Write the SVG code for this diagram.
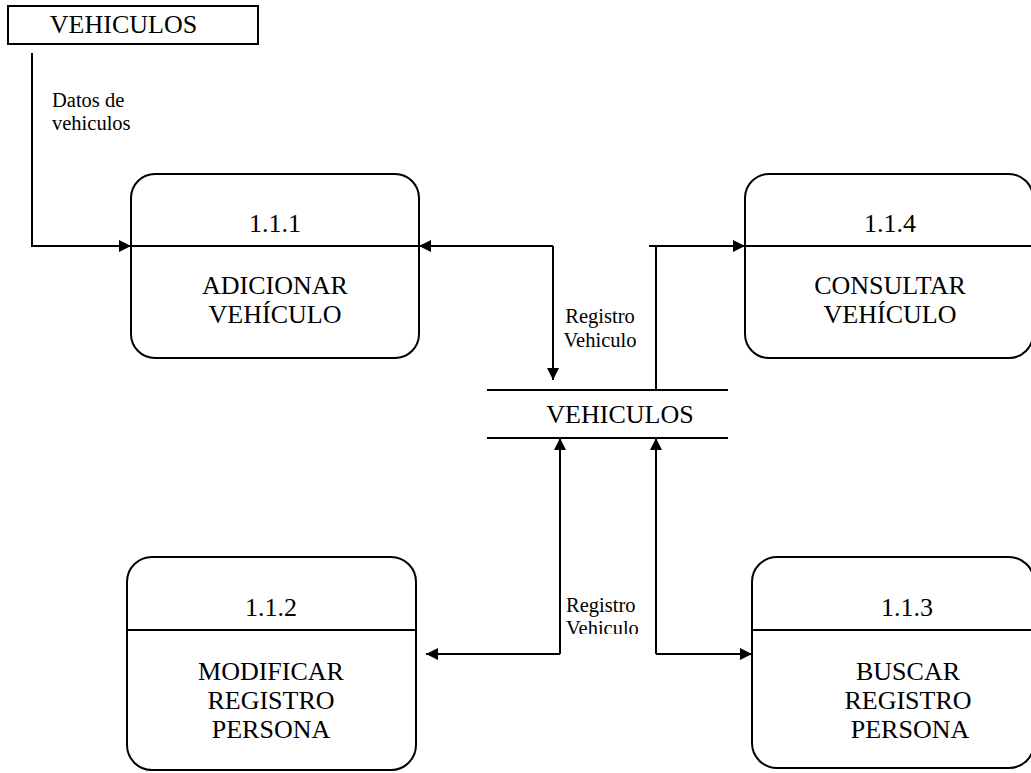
<svg xmlns="http://www.w3.org/2000/svg" width="1031" height="773" viewBox="0 0 1031 773">
<style>
  .box { fill: #fff; stroke: #000; stroke-width: 2; }
  .ln { fill: none; stroke: #000; stroke-width: 2; }
  text { font-family: "Times New Roman", "Liberation Serif", Tinos, "DejaVu Serif", serif; fill: #000; }
  .big { font-size: 26px; text-anchor: middle; }
  .lbl { font-size: 20.5px; }
</style>
<defs>
  <marker id="arr" viewBox="0 0 12 12" refX="12" refY="6" markerWidth="12" markerHeight="12" markerUnits="userSpaceOnUse" orient="auto">
    <path d="M0,0 L12,6 L0,12 Z" fill="#000"/>
  </marker>
  <clipPath id="clipLbl"><rect x="540" y="580" width="120" height="54"/></clipPath>
</defs>
<rect width="1031" height="773" fill="#fff"/>
<g id="ext-vehiculos">
  <rect class="box" x="8" y="6" width="250" height="38"/>
  <text class="big" x="123.5" y="33">VEHICULOS</text>
</g>

<g id="p111">
  <rect class="box" x="131" y="174" width="288" height="184" rx="24" ry="24"/>
  <line class="ln" x1="131" y1="246" x2="419" y2="246"/>
  <text class="big" x="275" y="232">1.1.1</text>
  <text class="big" x="275" y="294">ADICIONAR</text>
  <text class="big" x="275" y="323">VEHÍCULO</text>
</g>

<g id="p114">
  <rect class="box" x="745" y="174" width="288" height="184" rx="24" ry="24"/>
  <line class="ln" x1="745" y1="246" x2="1033" y2="246"/>
  <text class="big" x="890" y="232">1.1.4</text>
  <text class="big" x="890" y="294">CONSULTAR</text>
  <text class="big" x="890" y="323">VEHÍCULO</text>
</g>

<g id="p112">
  <rect class="box" x="127" y="557" width="289" height="213" rx="25" ry="25"/>
  <line class="ln" x1="127" y1="630" x2="416" y2="630"/>
  <text class="big" x="271" y="616">1.1.2</text>
  <text class="big" x="271" y="680">MODIFICAR</text>
  <text class="big" x="271" y="709">REGISTRO</text>
  <text class="big" x="271" y="738">PERSONA</text>
</g>

<g id="p113">
  <rect class="box" x="752" y="557" width="282" height="211" rx="25" ry="25"/>
  <line class="ln" x1="752" y1="630" x2="1034" y2="630"/>
  <text class="big" x="907" y="616">1.1.3</text>
  <text class="big" x="908" y="680">BUSCAR</text>
  <text class="big" x="908" y="709">REGISTRO</text>
  <text class="big" x="910" y="738">PERSONA</text>
</g>

<g id="store-vehiculos">
  <line class="ln" x1="487" y1="390" x2="728" y2="390"/>
  <line class="ln" x1="487" y1="438" x2="728" y2="438"/>
  <text class="big" x="620" y="423">VEHICULOS</text>
</g>

<g id="connectors">
  <polyline class="ln" points="32,53 32,246 131,246" marker-end="url(#arr)"/>
  <polyline class="ln" points="553,246 419,246" marker-end="url(#arr)"/>
  <polyline class="ln" points="553,246 553,380" marker-end="url(#arr)"/>
  <polyline class="ln" points="656,390 656,246"/>
  <polyline class="ln" points="649,246 745,246" marker-end="url(#arr)"/>
  <polyline class="ln" points="560,654 560,438" marker-end="url(#arr)"/>
  <polyline class="ln" points="560,654 426,654" marker-end="url(#arr)"/>
  <polyline class="ln" points="656,654 656,438" marker-end="url(#arr)"/>
  <polyline class="ln" points="656,654 752,654" marker-end="url(#arr)"/>
  <text class="lbl" x="52" y="107">Datos de</text>
  <text class="lbl" x="52" y="130">vehiculos</text>
  <text class="lbl" x="600" y="323" text-anchor="middle">Registro</text>
  <text class="lbl" x="600" y="347" text-anchor="middle">Vehiculo</text>
  <g clip-path="url(#clipLbl)">
    <text class="lbl" x="566" y="612">Registro</text>
    <text class="lbl" x="566" y="635">Vehiculo</text>
  </g>
</g>
</svg>
